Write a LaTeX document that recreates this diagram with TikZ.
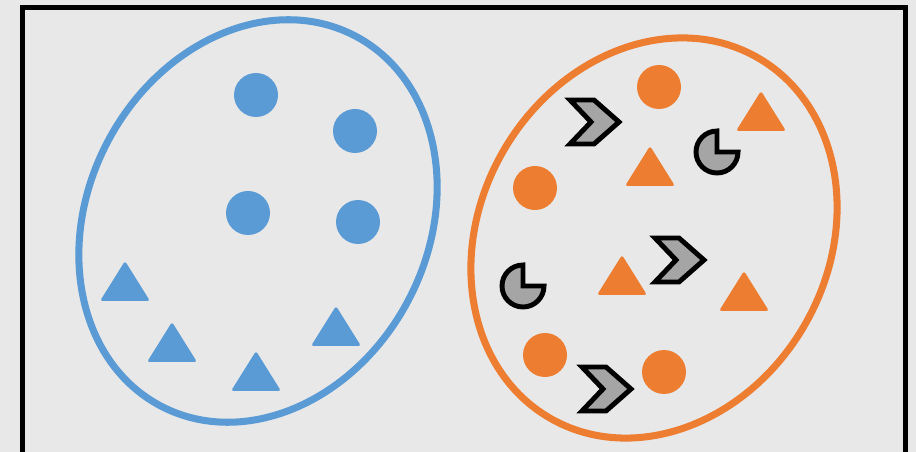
\documentclass[tikz,border=0pt]{standalone}
\usepackage{tikz}
\definecolor{setblue}{HTML}{5B9BD5}
\definecolor{setorange}{HTML}{ED7D31}
\definecolor{chipgray}{HTML}{A5A5A5}
\definecolor{paper}{HTML}{E8E8E8}

\begin{document}
\begin{tikzpicture}[
  x=0.02cm, y=-0.02cm,
  frame/.style={draw=black, line width=2.8pt},
  ring/.style={draw=#1, line width=4pt},
  %---- shapes (drawn in pixel units round the pic origin) ----
  pics/dot/.style={code={
    \fill[#1] (0,0) circle (22);}},
  pics/tri/.style={code={
    \fill[#1, rounded corners=1.5pt] (0,-20) -- (25,20) -- (-25,20) -- cycle;}},
  pics/chev/.style={code={
    \draw[line width=2.8pt, line join=miter, fill=chipgray]
      (-25,-22) -- (-1,-22) -- (24,0) -- (-1,22) -- (-25,22) -- (-4,0) -- cycle;}},
  pics/pac/.style={code={
    \draw[line width=2.8pt, fill=chipgray]
      (0,0) -- (0,-21) arc[start angle=-90, end angle=-360, radius=21] -- cycle;}},
]
\fill[paper] (0,0) rectangle (916,452);
\useasboundingbox (0,0) rectangle (916,452);
\begin{scope}
\clip (0,0) rectangle (916,452);
\draw[frame] (22.5,7.5) rectangle (905.5,470);
\end{scope}

% ---------- left set ----------
\draw[ring=setblue, rotate around={-27.7:(258,221)}] (258,221) ellipse (170 and 209);
\foreach \x/\y in {256/95, 355/131, 248/213, 358/222}
  \pic at (\x,\y) {dot=setblue};
\foreach \x/\y in {125/281, 172/342, 256/371, 336/326}
  \pic at (\x,\y) {tri=setblue};

% ---------- right set ----------
\draw[ring=setorange, rotate around={-30:(654,238)}] (654,238) ellipse (174 and 208);
\foreach \x/\y in {659/87, 535/188, 545/355, 664/372}
  \pic at (\x,\y) {dot=setorange};
\foreach \x/\y in {761/111, 650/166, 622/275, 744/291}
  \pic at (\x,\y) {tri=setorange};
\foreach \x/\y in {595/122, 680/260, 607/389}
  \pic at (\x,\y) {chev};
\foreach \x/\y in {717/152, 523/286}
  \pic at (\x,\y) {pac};
\end{tikzpicture}
\end{document}
